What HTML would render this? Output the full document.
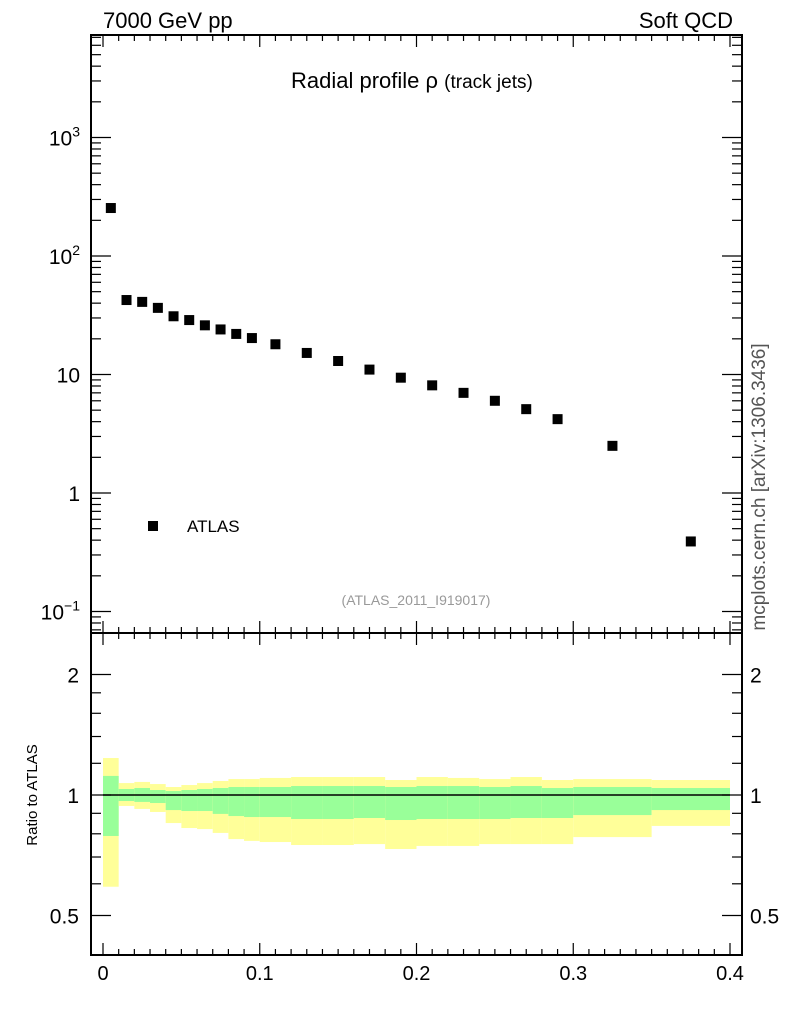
<!DOCTYPE html>
<html><head><meta charset="utf-8"><style>
body{margin:0;background:#fff}
svg{display:block;font-family:"Liberation Sans",sans-serif}
</style></head><body>
<svg id="c" width="786" height="1024" xmlns="http://www.w3.org/2000/svg"></svg>
<script>
const xCenters=[0.005,0.015,0.025,0.035,0.045,0.055,0.065,0.075,0.085,0.095,0.11,0.13,0.15,0.17,0.19,0.21,0.23,0.25,0.27,0.29,0.325,0.375];
const rhoValues=[254,42.5,41,36.5,31,28.8,26,24,22,20.3,18,15.2,13,11,9.4,8.1,7,6,5.1,4.2,2.5,0.39];
const binEdges=[0,.01,.02,.03,.04,.05,.06,.07,.08,.09,.1,.12,.14,.16,.18,.2,.22,.24,.26,.28,.3,.35,.4];
const yellowHi=[1.237,1.071,1.078,1.065,1.047,1.059,1.071,1.084,1.096,1.096,1.103,1.109,1.109,1.109,1.090,1.109,1.103,1.096,1.109,1.090,1.096,1.090];
const greenHi=[1.116,1.035,1.041,1.029,1.023,1.029,1.035,1.041,1.047,1.047,1.047,1.053,1.053,1.053,1.047,1.053,1.053,1.047,1.053,1.041,1.047,1.041];
const greenLo=[0.790,0.966,0.961,0.955,0.917,0.912,0.912,0.897,0.886,0.881,0.881,0.871,0.871,0.876,0.866,0.871,0.871,0.871,0.876,0.876,0.891,0.917];
const yellowLo=[0.59,0.939,0.923,0.907,0.851,0.827,0.822,0.804,0.776,0.768,0.763,0.750,0.750,0.754,0.733,0.746,0.746,0.754,0.754,0.754,0.785,0.837];
const xTicks=[0,0.1,0.2,0.3,0.4];
const xTickLabels=["0","0.1","0.2","0.3","0.4"];

const L=91,R=742,T=35,M=633,B=955;
const sx=v=>103+v*1567.5;
const sy=v=>493-Math.log10(v)*118.5;
const sr=v=>795-Math.log2(v)*120.5;
const svg=document.getElementById('c');
const NS="http://www.w3.org/2000/svg";
function mk(tag,attrs,parent){const e=document.createElementNS(NS,tag);for(const k in attrs)e.setAttribute(k,attrs[k]);(parent||svg).appendChild(e);return e;}
function txt(x,y,s,size,anchor,fill){const t=mk('text',{x:x,y:y,'font-size':size,'text-anchor':anchor||'start',fill:fill||'#000'});t.textContent=s;return t;}

const bands=mk('g',{});


for(let i=0;i<yellowHi.length;i++){
  const x0=sx(binEdges[i]),x1=sx(binEdges[i+1]);
  const y=mk('rect',{x:x0,y:sr(yellowHi[i]),width:x1-x0,height:sr(yellowLo[i])-sr(yellowHi[i]),fill:'#ffff99'},bands);
  
  
  const g=mk('rect',{x:x0,y:sr(greenHi[i]),width:x1-x0,height:sr(greenLo[i])-sr(greenHi[i]),fill:'#99ff99'},bands);
  
  
}
mk('line',{x1:sx(0),x2:sx(0.4),y1:sr(1),y2:sr(1),stroke:'#000','stroke-width':1.5});

for(let i=0;i<xCenters.length;i++){
  const p=mk('rect',{x:sx(xCenters[i])-5,y:sy(rhoValues[i])-5,width:10,height:10,fill:'#000'});
  
  
}

const f1=mk('rect',{x:L,y:T,width:R-L,height:M-T,fill:'none',stroke:'#000','stroke-width':2});


const f2=mk('rect',{x:L,y:M,width:R-L,height:B-M,fill:'none',stroke:'#000','stroke-width':2});



function xt(yEdge,dir){
  for(let k=0;k<=42;k++){const v=k/100;if(v>0.41)break;const x=sx(v);if(x<L||x>R)continue;
    const len=(k%10==0)?12:6; mk('line',{x1:x,x2:x,y1:yEdge,y2:yEdge+dir*len,stroke:'#000','stroke-width':1.2});}
}
xt(T,1);xt(M,-1);xt(M,1);xt(B,-1);
xTicks.forEach((v,i)=>{const t=txt(sx(v),980,xTickLabels[i],20,'middle');});

for(let d=-2;d<=3;d++){for(let m=1;m<10;m++){const v=m*Math.pow(10,d);const y=sy(v);if(y<T||y>M)continue;
  const len=m==1?20:10;
  mk('line',{x1:L,x2:L+len,y1:y,y2:y,stroke:'#000','stroke-width':1.2});
  mk('line',{x1:R,x2:R-len,y1:y,y2:y,stroke:'#000','stroke-width':1.2});}}
[[1000,'10','3'],[100,'10','2'],[10,'10',''],[1,'1',''],[0.1,'10','−1']].forEach(a=>{
  const t=txt(80,sy(a[0])+8,'',21,'end');
  
  const s1=mk('tspan',{},t);s1.textContent=a[1];
  if(a[2]){const s2=mk('tspan',{dy:-9,'font-size':14},t);s2.textContent=a[2];}
});
[0.5,0.6,0.7,0.8,0.9,1,1.2,1.4,1.6,1.8,2].forEach(v=>{const y=sr(v);const len=(v==0.5||v==1||v==2)?20:10;
  mk('line',{x1:L,x2:L+len,y1:y,y2:y,stroke:'#000','stroke-width':1.2});
  mk('line',{x1:R,x2:R-len,y1:y,y2:y,stroke:'#000','stroke-width':1.2});});
[[2,'2'],[1,'1'],[0.5,'0.5']].forEach(a=>{
  let t=txt(79,sr(a[0])+8,a[1],21,'end');
  t=txt(750,sr(a[0])+8,a[1],21,'start');
});
let t;
t=txt(103,28,'7000 GeV pp',22);
t=txt(733,28,'Soft QCD',22,'end');
t=txt(291,88,'',22);
mk('tspan',{},t).textContent='Radial profile ρ ';mk('tspan',{'font-size':19},t).textContent='(track jets)';
t=txt(416,605,'(ATLAS_2011_I919017)',14,'middle','#999');
const ls=mk('rect',{x:148,y:521,width:10,height:10,fill:'#000'});
t=txt(187,532,'ATLAS',17);
t=txt(0,0,'Ratio to ATLAS',15,'middle');t.setAttribute('transform','translate(37,795) rotate(-90)');
t=txt(0,0,'mcplots.cern.ch [arXiv:1306.3436]',19,'middle','#555');t.setAttribute('transform','translate(765,487) rotate(-90)');
</script>
</body></html>
